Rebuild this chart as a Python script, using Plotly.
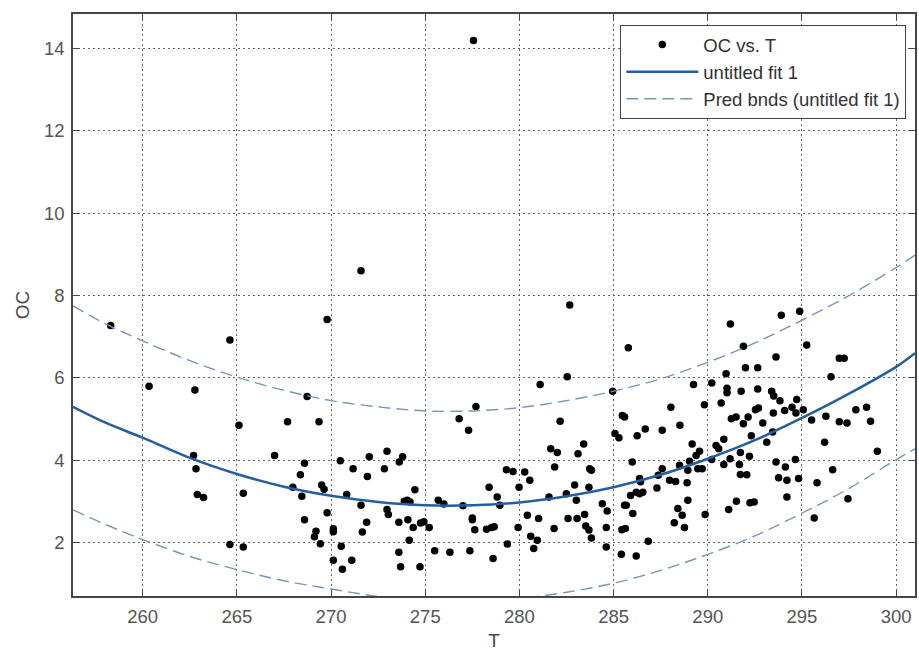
import plotly.graph_objects as go

# Scatter data
T_obs = [
    258.3, 269.79, 271.59, 277.56, 282.67, 291.2, 293.9, 294.88,
    264.63, 260.34, 262.77, 268.73, 265.11, 267.69, 269.36, 276.8,
    262.70, 262.83, 262.9, 263.23, 267.0, 268.59, 268.37, 267.97, 268.45, 268.59,
    265.34, 264.63, 265.34, 269.5, 269.63, 269.79, 269.2, 269.12, 269.43,
    270.12, 270.12, 270.49, 271.17, 270.83, 271.59, 272.03, 271.93, 271.89, 271.66,
    270.54, 270.12, 270.6, 271.1, 272.97, 272.83, 272.97, 273.04, 273.62, 273.8,
    273.6, 273.6, 273.69, 273.89, 274.05, 274.19, 274.08, 274.15, 274.36, 274.45,
    274.72, 274.75, 274.93, 275.21, 275.5, 275.69, 275.99, 276.31,
    291.89, 285.78, 295.25, 293.62, 296.98, 297.24, 292.0, 292.65, 282.54, 296.54,
    281.1, 284.95, 289.24, 290.21, 290.97, 291.02, 291.02, 291.77, 292.65, 293.39,
    293.5, 293.83, 294.72, 277.69, 277.3, 282.16, 285.46, 285.58, 288.04,
    289.82, 290.71, 292.53, 292.69, 293.48, 294.08, 294.47, 294.68, 295.07, 291.25,
    291.5, 292.14, 291.89, 292.92, 295.51, 296.27, 296.98, 297.39, 297.86, 298.43,
    298.64, 293.44, 292.31, 293.13, 296.2, 299.0, 286.68, 287.58, 288.52, 286.25,
    285.07, 285.28, 281.66, 282.01, 283.41, 283.11, 289.17, 289.38, 289.56, 290.44,
    290.58, 290.85, 291.18, 291.73, 292.21, 290.21, 290.85, 291.68, 291.73, 292.07,
    293.62, 294.65, 294.12, 293.76, 294.2, 294.82, 296.63, 295.8, 294.2, 297.44,
    295.65, 291.11, 291.52, 292.24, 292.46, 289.86, 288.94, 288.9, 288.94, 288.5,
    289.03, 289.47, 289.7, 287.58, 287.37, 287.97, 288.29, 287.3, 286.38, 286.43,
    285.99, 286.2, 286.38, 286.55, 285.9, 285.58, 285.67, 286.02, 288.41, 288.64,
    288.22, 288.76, 286.84, 285.44, 285.62, 285.41, 286.2, 284.61, 284.61, 284.66,
    284.4, 283.73, 283.82, 283.69, 282.93, 283.02, 282.49, 281.57, 281.87, 282.58,
    283.06, 283.46, 283.52, 283.69, 283.82, 281.84, 281.02, 280.42, 280.6, 280.95,
    280.76, 279.93, 279.36, 278.6, 277.37, 278.25, 278.52, 278.66, 277.63, 277.5,
    277.5, 277.0, 278.39, 278.82, 278.96, 279.98, 279.31, 279.66, 280.28, 280.55,
]
OC_obs = [
    7.27, 7.42, 8.60, 14.19, 7.77, 7.31, 7.52, 7.62,
    6.92, 5.80, 5.71, 5.55, 4.85, 4.94, 4.94, 5.01,
    4.12, 3.80, 3.17, 3.10, 4.12, 3.93, 3.65, 3.35, 3.13, 2.56,
    3.20, 1.96, 1.90, 3.40, 3.30, 2.73, 2.28, 2.15, 1.98,
    2.34, 2.27, 3.99, 3.80, 3.17, 2.91, 4.09, 3.61, 2.50, 2.26,
    1.92, 1.58, 1.36, 1.58, 4.22, 3.80, 2.81, 2.69, 3.96, 4.09,
    2.50, 1.77, 1.42, 3.01, 3.03, 2.99, 2.56, 2.06, 2.37, 3.29,
    1.42, 2.48, 2.51, 2.37, 1.81, 3.03, 2.94, 1.77,
    6.77, 6.73, 6.80, 6.51, 6.48, 6.48, 6.25, 6.25, 6.03, 6.03,
    5.84, 5.68, 5.84, 5.88, 6.10, 5.75, 5.64, 5.68, 5.73, 5.68,
    5.56, 5.45, 5.48, 5.31, 4.73, 4.95, 5.09, 5.05, 5.29,
    5.35, 5.39, 5.23, 5.27, 5.15, 5.21, 5.29, 5.15, 5.23, 5.01,
    5.05, 5.05, 4.89, 4.91, 4.98, 5.07, 4.94, 4.91, 5.23, 5.29,
    4.95, 4.69, 4.60, 4.44, 4.44, 4.22, 4.76, 4.73, 4.85, 4.60,
    4.65, 4.55, 4.28, 4.19, 4.40, 4.16, 4.40, 4.12, 4.22, 4.36,
    4.28, 4.51, 4.04, 4.19, 4.10, 4.02, 3.90, 3.90, 3.66, 3.65,
    3.96, 4.02, 3.84, 3.58, 3.52, 3.56, 3.77, 3.46, 3.11, 3.07,
    2.60, 2.81, 3.01, 2.97, 2.99, 2.69, 3.03, 3.46, 3.76, 3.88,
    3.98, 3.80, 3.80, 3.80, 3.64, 3.52, 3.49, 3.33, 3.56, 3.48,
    3.96, 3.23, 3.19, 3.23, 3.15, 2.91, 2.91, 2.71, 2.83, 2.67,
    2.49, 2.37, 2.04, 2.32, 2.35, 1.72, 1.68, 1.90, 2.37, 2.77,
    2.95, 3.80, 3.76, 3.35, 3.40, 3.03, 3.19, 3.11, 3.84, 2.59,
    2.59, 2.69, 2.41, 2.31, 2.12, 2.35, 2.59, 2.67, 2.16, 2.06,
    1.86, 2.37, 1.97, 1.62, 1.81, 2.33, 2.37, 2.39, 2.32, 2.60,
    2.56, 2.90, 3.35, 3.11, 2.91, 3.35, 3.77, 3.73, 3.72, 3.52,
]

# Fit curve and prediction bounds
T_fit = [256.3, 258, 260, 262.5, 265, 267.5, 270, 272.5, 275, 277.5,
         280, 282.5, 285, 287.5, 290, 292.5, 295, 297.5, 300, 301]
OC_fit = [5.30, 4.92, 4.55, 4.06, 3.67, 3.36, 3.14, 2.99, 2.91, 2.91,
          2.98, 3.13, 3.35, 3.65, 4.04, 4.49, 5.03, 5.62, 6.27, 6.60]
OC_upper = [7.75, 7.32, 6.90, 6.42, 6.02, 5.70, 5.45, 5.30, 5.20, 5.20,
            5.28, 5.45, 5.68, 5.98, 6.38, 6.85, 7.40, 8.00, 8.68, 8.98]
OC_lower = [2.80, 2.45, 2.08, 1.67, 1.35, 1.08, 0.88, 0.70, 0.60, 0.58,
            0.65, 0.80, 1.02, 1.33, 1.72, 2.17, 2.72, 3.32, 4.02, 4.28]

x_ticks = [260, 265, 270, 275, 280, 285, 290, 295, 300]
y_ticks = [2, 4, 6, 8, 10, 12, 14]

FONT = "Arial, Liberation Sans, sans-serif"
fit_color = "rgb(35,95,160)"
band_color = "rgb(120,150,180)"

fig = go.Figure()
fig.add_trace(go.Scatter(x=T_obs, y=OC_obs, mode="markers", name="OC vs. T",
                         marker=dict(color="black", size=7.5)))
fig.add_trace(go.Scatter(x=T_fit, y=OC_fit, mode="lines", name="untitled fit 1",
                         line=dict(color=fit_color, width=2.5, shape="spline")))
fig.add_trace(go.Scatter(x=T_fit, y=OC_upper, mode="lines", name="Pred bnds (untitled fit 1)",
                         line=dict(color=band_color, width=1.4, dash="12px,6px", shape="spline")))
fig.add_trace(go.Scatter(x=T_fit, y=OC_lower, mode="lines", showlegend=False,
                         line=dict(color=band_color, width=1.4, dash="12px,6px", shape="spline")))

axis_common = dict(
    showline=True, linecolor="rgb(70,70,70)", linewidth=1.5, mirror="ticks",
    ticks="inside", ticklen=6, tickcolor="rgb(70,70,70)",
    showgrid=True, gridcolor="rgb(100,100,100)", griddash="1.5px,3.5px", gridwidth=1,
    zeroline=False, tickfont=dict(family=FONT, size=18.5, color="rgb(85,85,85)"),
)

fig.update_xaxes(range=[256.3, 301.0], tickvals=x_ticks, ticklabelstandoff=3,
                 title=dict(text="T", font=dict(family=FONT, size=19, color="rgb(70,70,70)"), standoff=9),
                 **axis_common)
fig.update_yaxes(range=[0.71, 14.83], tickvals=y_ticks, ticklabelstandoff=3,
                 title=dict(text="OC", font=dict(family=FONT, size=19, color="rgb(70,70,70)"), standoff=9),
                 **axis_common)

fig.update_layout(
    width=919, height=651,
    margin=dict(l=73, r=2, t=14, b=53),
    plot_bgcolor="white", paper_bgcolor="white",
    font=dict(family=FONT, size=18.5, color="rgb(50,50,50)"),
    legend=dict(x=0.9897, y=0.981, xanchor="right", yanchor="top",
                bgcolor="white", bordercolor="rgb(70,70,70)", borderwidth=1,
                font=dict(family=FONT, size=18.5, color="rgb(50,50,50)"),
                tracegroupgap=0, itemwidth=72),
)

fig.write_html("out.html")
